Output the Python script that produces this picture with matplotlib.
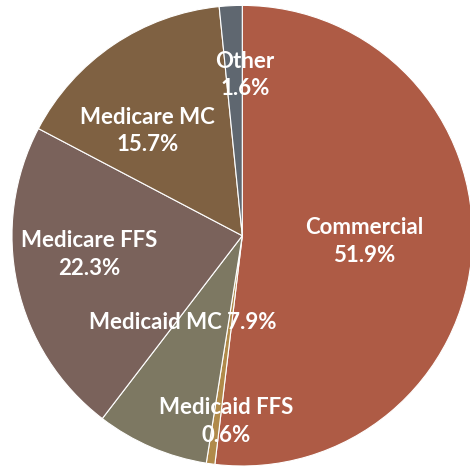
import matplotlib.pyplot as plt

labels = ['Commercial', 'Medicaid FFS', 'Medicaid MC', 'Medicare FFS', 'Medicare MC', 'Other']
shares = [51.9, 0.6, 7.9, 22.3, 15.7, 1.6]
colors = ['#AE5B45', '#B08A4A', '#7D7862', '#7A625B', '#7F6142', '#5F6770']
# label text and where it sits (pie radius = 1)
label_texts = ['Commercial\n51.9%', 'Medicaid FFS\n0.6%', 'Medicaid MC 7.9%',
               'Medicare FFS\n22.3%', 'Medicare MC\n15.7%', 'Other\n1.6%']
label_pos = [(0.528, -0.025), (-0.072, -0.807), (-0.259, -0.375),
             (-0.665, -0.081), (-0.413, 0.456), (0.011, 0.697)]

fig = plt.figure(figsize=(4.7, 4.7), dpi=100)
ax = fig.add_axes([0.0255, 0.0085, 0.98, 0.98])
ax.pie(shares, colors=colors, startangle=90, counterclock=False, radius=1,
       wedgeprops=dict(edgecolor='white', linewidth=0.8))
for txt, (x, y) in zip(label_texts, label_pos):
    ax.text(x, y, txt, ha='center', va='center', color='white', fontsize=16,
            fontweight='bold', family='Lato', linespacing=1.37)
ax.set_xlim(-1.0, 1.0)
ax.set_ylim(-1.0, 1.0)
ax.set_aspect('equal')
ax.axis('off')
fig.savefig('out.png', dpi=100)
